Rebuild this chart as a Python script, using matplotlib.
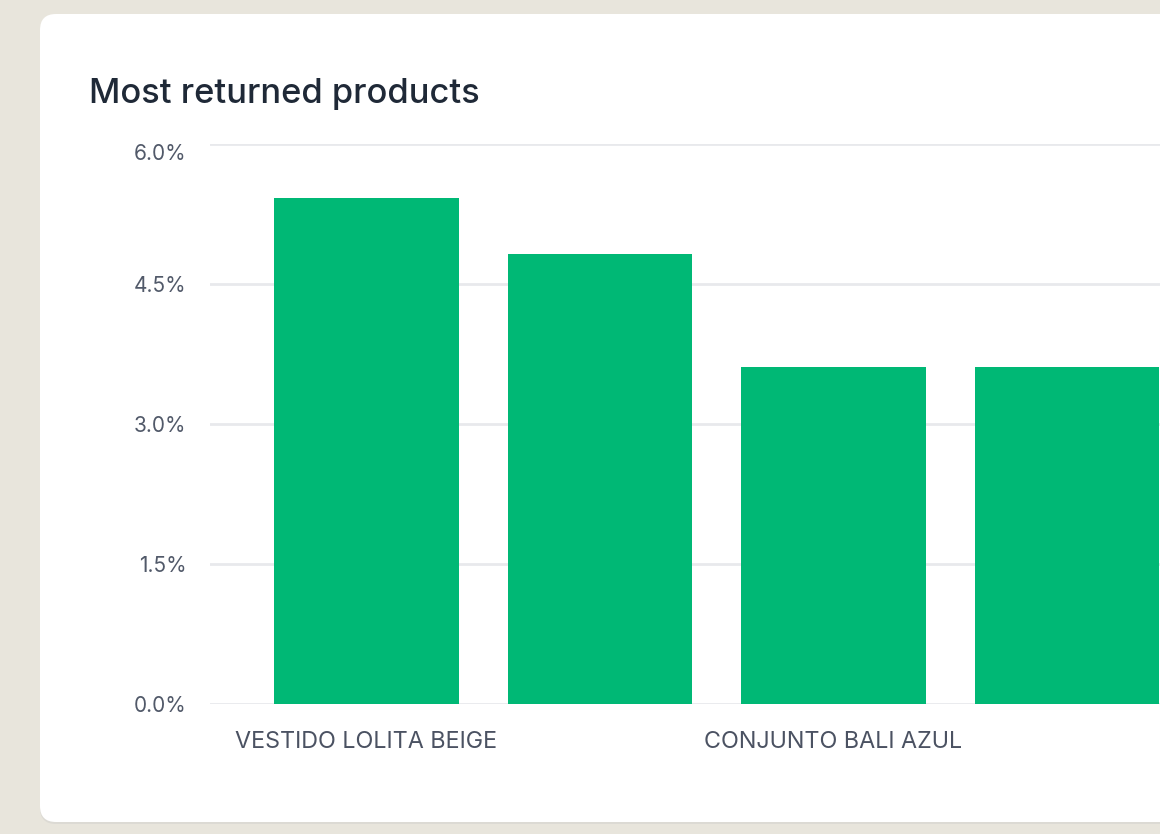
import numpy as np
import matplotlib
matplotlib.use("Agg")
import matplotlib.pyplot as plt
import matplotlib.transforms as mtransforms
from matplotlib.patches import FancyBboxPatch

plt.rcParams['font.family'] = ['Inter', 'DejaVu Sans']

# data (return rate, %)
products = ['VESTIDO LOLITA BEIGE', 'product 2', 'CONJUNTO BALI AZUL', 'product 4']
shown = [True, False, True, False]   # every other label is hidden on the chart
return_pct = [5.42, 4.82, 3.61, 3.61]
yticks = [0.0, 1.5, 3.0, 4.5, 6.0]

W, H = 1160, 834
fig = plt.figure(figsize=(W/100, H/100), dpi=100)
fig.patch.set_facecolor('#e8e5dc')

# background layer in pixel coords for the card
bg = fig.add_axes([0, 0, 1, 1])
bg.set_xlim(0, W)
bg.set_ylim(H, 0)
bg.axis('off')
shadow = FancyBboxPatch((40, 16), 1200, 808, boxstyle="round,pad=0,rounding_size=16",
                        fc='#dcdad4', ec='none')
bg.add_patch(shadow)
card = FancyBboxPatch((40, 14), 1200, 808, boxstyle="round,pad=0,rounding_size=16",
                      fc='white', ec='none')
bg.add_patch(card)

fig.text(89/W, 1-103/H, 'Most returned products', fontsize=24.8, fontweight='medium',
         color='#1f2937', ha='left', va='baseline')

# chart axes
left, right = 210, 1160
top, bottom = 144, 704
ax = fig.add_axes([left/W, 1-bottom/H, (right-left)/W, (bottom-top)/H])
ax.set_facecolor('none')

x = np.arange(len(products))
ax.bar(x, return_pct, width=0.79, color='#00b875', zorder=3)

ax.set_ylim(0, 6)
ax.set_xlim(-0.670, 3.398)
ax.set_yticks(yticks)
ax.set_yticklabels(['%.1f%%' % v for v in yticks])
ax.set_xticks(x)
ax.set_xticklabels([p if s else '' for p, s in zip(products, shown)])

ax.grid(axis='y', color='#e8e9ec', linewidth=2, zorder=0)
ax.grid(axis='x', visible=False)
for s in ax.spines.values():
    s.set_visible(False)
ax.tick_params(axis='both', length=0)
ax.tick_params(axis='y', pad=17, labelsize=15, labelcolor='#515969')
ax.tick_params(axis='x', pad=19.5, labelsize=16.8, labelcolor='#4b5262')

# top label sits a little below its gridline
toplab = ax.get_yticklabels()[-1]
toplab.set_transform(toplab.get_transform() +
                     mtransforms.ScaledTranslation(0, -8/100, fig.dpi_scale_trans))

fig.savefig('out.png', dpi=100, facecolor=fig.get_facecolor())
